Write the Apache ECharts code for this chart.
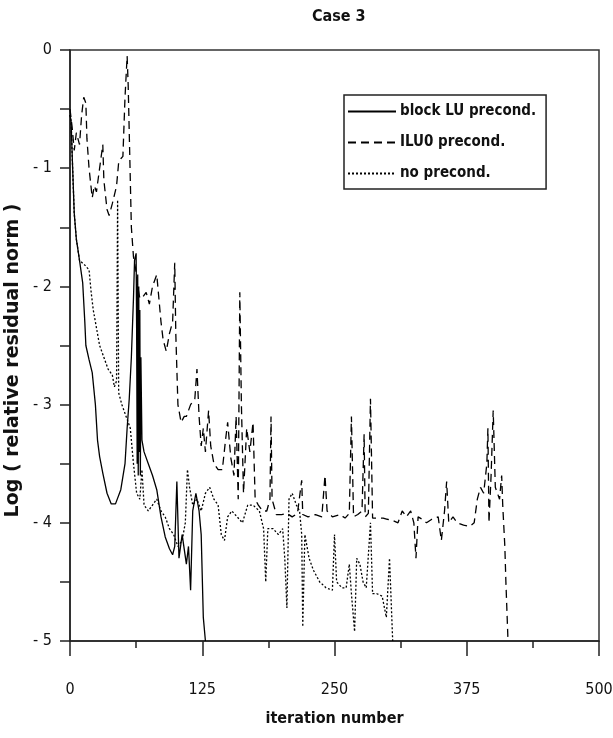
<!DOCTYPE html>
<html>
<head>
<meta charset="utf-8">
<script src="https://cdn.jsdelivr.net/npm/echarts@6/dist/echarts.min.js"></script>
<style>
  html, body { margin: 0; padding: 0; background: #fff; }
  #chart { width: 613px; height: 738px; }
</style>
</head>
<body>
<div id="chart"></div>
<script>
// block LU precond. (solid)
const luIter = [0, 1, 2.5, 4, 6, 9, 12, 14, 15, 18, 21, 24, 26, 28, 31, 35, 39, 43, 48, 52, 54, 56, 58, 60, 61, 62.5, 63, 63.5, 64, 64.5, 65, 65.5, 66, 66.5, 67, 68, 70, 74, 78, 82, 86, 90, 94, 97, 99, 101, 103, 106, 110, 112, 114, 116, 119, 122, 124, 126, 128]
const luLog = [-0.55, -0.6, -1.0, -1.38, -1.6, -1.78, -1.97, -2.3, -2.5, -2.62, -2.73, -3.0, -3.3, -3.44, -3.58, -3.75, -3.84, -3.84, -3.72, -3.5, -3.2, -2.95, -2.6, -2.1, -1.78, -1.72, -2.4, -3.5, -1.9, -3.6, -2.0, -3.4, -2.2, -3.6, -2.6, -3.3, -3.4, -3.5, -3.6, -3.72, -3.95, -4.12, -4.22, -4.27, -4.2, -3.65, -4.3, -4.1, -4.35, -4.2, -4.57, -3.9, -3.75, -3.9, -4.1, -4.8, -5.0]

// ILU0 precond. (dashed)
const iluIter = [0, 2, 4, 6, 9, 11, 13, 15, 16, 18, 21, 23, 25, 28, 31, 32, 35, 37, 40, 44, 46, 48, 50, 52, 54, 55, 56, 58, 60, 62, 64, 66, 68, 72, 75, 78, 82, 84, 86, 88, 91, 94, 97, 99, 100, 101, 102, 105, 108, 110, 114, 118, 120, 122, 124, 126, 128, 131, 133, 136, 140, 144, 147, 149, 152, 155, 157, 159, 160.5, 162, 164, 167, 170, 173, 175, 178, 182, 186, 189, 190, 191, 195, 200, 205, 210, 215, 219, 220, 225, 232, 238, 241, 243, 248, 255, 260, 264, 266, 268, 272, 276, 278, 279, 282, 284, 286, 290, 296, 300, 305, 310, 314, 318, 322, 325, 327, 329, 333, 337, 342, 348, 351, 354, 356, 358, 362, 366, 372, 378, 382, 385, 388, 391, 394, 395, 396, 398, 400, 402, 404, 406, 408, 409, 411, 412, 414]
const iluLog = [-0.5, -0.65, -0.85, -0.7, -0.8, -0.55, -0.4, -0.45, -0.75, -1.0, -1.25, -1.15, -1.2, -1.0, -0.8, -1.1, -1.35, -1.4, -1.3, -1.15, -0.95, -0.92, -0.9, -0.4, -0.05, -0.3, -0.7, -1.5, -1.75, -1.85, -2.0, -2.1, -2.1, -2.05, -2.15, -2.0, -1.9, -2.1, -2.3, -2.45, -2.55, -2.4, -2.3, -1.8, -2.4, -2.7, -3.0, -3.15, -3.1, -3.1, -3.0, -2.95, -2.7, -3.1, -3.35, -3.2, -3.4, -3.05, -3.35, -3.5, -3.55, -3.55, -3.3, -3.15, -3.45, -3.6, -3.1, -3.8, -2.05, -3.0, -3.75, -3.2, -3.4, -3.15, -3.8, -3.85, -3.9, -3.9, -3.8, -3.1, -3.8, -3.93, -3.93, -3.92, -3.95, -3.92, -3.64, -3.93, -3.95, -3.93, -3.95, -3.6, -3.9, -3.95, -3.93, -3.96, -3.92, -3.1, -3.95, -3.93, -3.9, -3.25, -3.95, -3.92, -2.95, -3.96, -3.96, -3.96, -3.97, -3.98, -4.0, -3.9, -3.95, -3.9, -4.0, -4.3, -3.95, -3.97, -4.0, -3.97, -3.95, -4.15, -3.9, -3.65, -4.0, -3.95, -4.0, -4.02, -4.03, -4.0, -3.8, -3.7, -3.75, -3.5, -3.2, -4.0, -3.6, -3.05, -3.7, -3.75, -3.8, -3.6, -3.85, -4.2, -4.5, -5.0]

// no precond. (dotted)
const noIter = [0, 1, 2.5, 4, 6, 9, 14, 18, 20, 22, 25, 28, 32, 36, 40, 42, 44, 45, 46, 49, 53, 57, 60, 63, 66, 68, 70, 74, 78, 82, 86, 90, 94, 98, 102, 106, 109, 111, 113, 116, 120, 124, 128, 132, 136, 140, 143, 146, 149, 153, 158, 163, 168, 173, 179, 183, 185, 187, 192, 197, 201, 203, 205, 207, 210, 214, 217, 219, 220, 222, 226, 230, 236, 242, 248, 250, 252, 257, 261, 264, 266, 269, 271, 274, 277, 280, 284, 286, 290, 295, 299, 302, 305]
const noLog = [-0.55, -0.6, -1.0, -1.38, -1.6, -1.78, -1.82, -1.86, -2.05, -2.2, -2.35, -2.5, -2.6, -2.7, -2.75, -2.85, -2.8, -1.27, -2.9, -3.0, -3.1, -3.2, -3.5, -3.75, -3.8, -3.55, -3.85, -3.9, -3.85, -3.8, -3.9, -3.95, -4.05, -4.1, -4.2, -4.15, -4.0, -3.55, -3.7, -3.85, -3.8, -3.9, -3.75, -3.7, -3.8, -3.85, -4.1, -4.15, -3.95, -3.9, -3.95, -4.0, -3.85, -3.85, -3.9, -4.05, -4.5, -4.05, -4.05, -4.1, -4.05, -4.3, -4.72, -3.8, -3.75, -3.85, -3.9, -4.1, -4.88, -4.1, -4.3, -4.4, -4.5, -4.55, -4.57, -4.1, -4.5, -4.55, -4.55, -4.35, -4.6, -4.92, -4.3, -4.35, -4.5, -4.55, -4.0, -4.6, -4.6, -4.62, -4.8, -4.3, -5.0]

const seriesNames = ['block LU precond.', 'ILU0 precond.', 'no precond.']
const xTicks = [0, 125, 250, 375, 500]

const narrow = '"Liberation Sans Narrow", "DejaVu Sans Condensed", "Liberation Sans", sans-serif'
const ink = '#111'

function pairs(xs, ys) {
  return xs.map((x, i) => [x, ys[i]])
}

const chart = echarts.init(document.getElementById('chart'), null, { renderer: 'canvas' })

chart.setOption({
  animation: false,
  backgroundColor: '#fff',
  title: {
    text: 'Case 3',
    left: 307,
    top: 4,
    textStyle: { fontFamily: narrow, fontWeight: 'bold', fontSize: 16, color: ink }
  },
  legend: {
    orient: 'vertical',
    left: 344,
    top: 95,
    padding: [9, 10, 8, 3],
    itemWidth: 48,
    itemHeight: 14,
    itemGap: 16,
    borderColor: '#222',
    borderWidth: 1.5,
    data: seriesNames,
    itemStyle: { opacity: 0 },
    textStyle: { fontFamily: narrow, fontWeight: 'bold', fontSize: 15, color: ink, lineHeight: 14, padding: [0, 0, 0, -1] }
  },
  grid: {
    left: 70,
    right: 14,
    top: 50,
    bottom: 97,
    outerBoundsMode: 'none',
    show: true,
    borderColor: '#333',
    borderWidth: 1.5
  },
  xAxis: {
    type: 'value',
    min: 0,
    max: 500,
    interval: 125,
    name: 'iteration number',
    nameLocation: 'middle',
    nameGap: 70,
    nameTextStyle: { fontFamily: narrow, fontWeight: 'bold', fontSize: 16, color: ink },
    axisLine: { onZero: false, lineStyle: { color: '#222', width: 1.5 } },
    axisTick: { length: 15, lineStyle: { color: '#222', width: 1.5 } },
    minorTick: { show: true, splitNumber: 2, length: 7, lineStyle: { color: '#222', width: 1.5 } },
    splitLine: { show: false },
    axisLabel: {
      margin: 41,
      fontFamily: narrow,
      fontSize: 16,
      color: ink,
      customValues: xTicks
    }
  },
  yAxis: {
    type: 'value',
    min: -5,
    max: 0,
    interval: 1,
    name: 'Log ( relative residual norm )',
    nameLocation: 'middle',
    nameGap: 46,
    nameRotate: 90,
    nameTextStyle: { fontFamily: '"DejaVu Sans", sans-serif', fontWeight: 'bold', fontSize: 19, color: ink, padding: [0, 30, 0, 0] },
    axisLine: { onZero: false, lineStyle: { color: '#222', width: 1.5 } },
    axisTick: { length: 10, lineStyle: { color: '#222', width: 1.5 } },
    minorTick: { show: true, splitNumber: 2, length: 10, lineStyle: { color: '#222', width: 1.5 } },
    splitLine: { show: false },
    axisLabel: {
      margin: 18,
      fontFamily: narrow,
      fontSize: 16,
      color: ink,
      formatter: v => (v < 0 ? '- ' + Math.abs(v) : String(v))
    }
  },
  series: [
    {
      name: seriesNames[0],
      type: 'line',
      symbol: 'none',
      color: '#000',
      data: pairs(luIter, luLog),
      lineStyle: { color: '#000', width: 1.3, type: 'solid' }
    },
    {
      name: seriesNames[1],
      type: 'line',
      symbol: 'none',
      color: '#000',
      data: pairs(iluIter, iluLog),
      lineStyle: { color: '#000', width: 1.3, type: [8, 5] }
    },
    {
      name: seriesNames[2],
      type: 'line',
      symbol: 'none',
      color: '#000',
      data: pairs(noIter, noLog),
      lineStyle: { color: '#000', width: 1.3, type: [2, 2] }
    }
  ]
})
</script>
</body>
</html>
